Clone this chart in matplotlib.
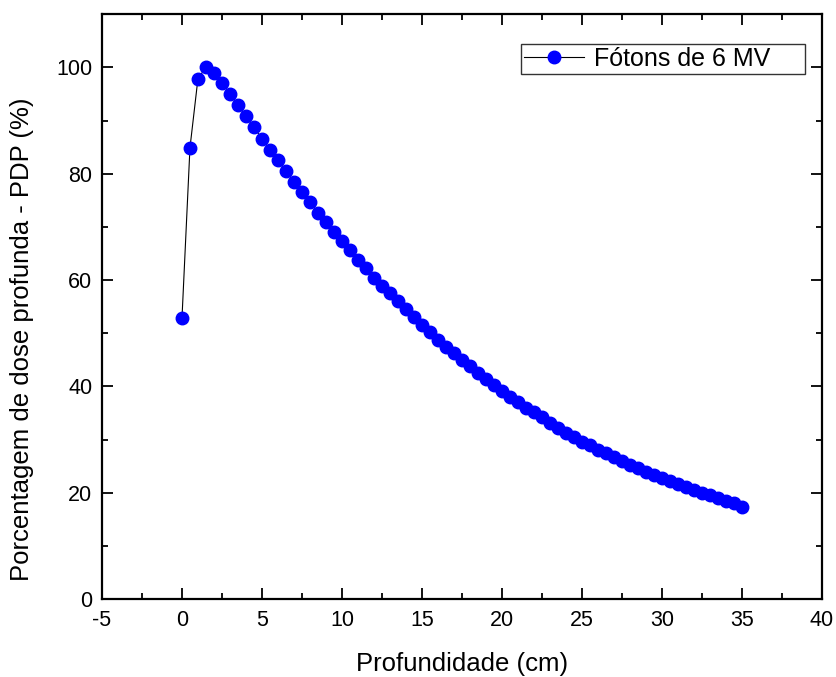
import matplotlib
matplotlib.use("Agg")
import matplotlib.pyplot as plt
from matplotlib.ticker import MultipleLocator

depth_cm = [0.0, 0.5, 1.0, 1.5, 2.0, 2.5, 3.0, 3.5, 4.0, 4.5,
            5.0, 5.5, 6.0, 6.5, 7.0, 7.5, 8.0, 8.5, 9.0, 9.5,
            10.0, 10.5, 11.0, 11.5, 12.0, 12.5, 13.0, 13.5, 14.0, 14.5,
            15.0, 15.5, 16.0, 16.5, 17.0, 17.5, 18.0, 18.5, 19.0, 19.5,
            20.0, 20.5, 21.0, 21.5, 22.0, 22.5, 23.0, 23.5, 24.0, 24.5,
            25.0, 25.5, 26.0, 26.5, 27.0, 27.5, 28.0, 28.5, 29.0, 29.5,
            30.0, 30.5, 31.0, 31.5, 32.0, 32.5, 33.0, 33.5, 34.0, 34.5,
            35.0]
pdp = [52.8, 84.9, 97.9, 100.0, 98.9, 97.1, 95.0, 92.9, 90.8, 88.7,
       86.6, 84.5, 82.5, 80.5, 78.5, 76.5, 74.7, 72.7, 70.9, 69.0,
       67.4, 65.6, 63.8, 62.2, 60.4, 58.9, 57.5, 56.0, 54.5, 53.0,
       51.6, 50.2, 48.8, 47.5, 46.2, 45.0, 43.8, 42.6, 41.4, 40.3,
       39.2, 38.1, 37.1, 36.0, 35.1, 34.2, 33.2, 32.2, 31.3, 30.5,
       29.6, 28.9, 28.1, 27.4, 26.7, 25.9, 25.3, 24.65, 24.0, 23.4,
       22.8, 22.2, 21.6, 21.0, 20.5, 20.0, 19.5, 19.0, 18.5, 18.0,
       17.4]
series_label = "Fótons de 6 MV"
x_label = "Profundidade (cm)"
y_label = "Porcentagem de dose profunda - PDP (%)"

plt.rcParams['font.family'] = ['Liberation Sans', 'DejaVu Sans']
plt.rcParams['axes.unicode_minus'] = False

fig = plt.figure(figsize=(8.36, 6.77), dpi=100)
ax = fig.add_axes([0.122, 0.115, 0.861, 0.864])

ax.plot(depth_cm, pdp, color='black', linewidth=0.8, marker='o',
        markersize=9, markerfacecolor='#0000FF', markeredgecolor='#0000FF',
        label=series_label)

ax.set_xlim(-5, 40)
ax.set_ylim(0, 110)
ax.xaxis.set_major_locator(MultipleLocator(5))
ax.xaxis.set_minor_locator(MultipleLocator(2.5))
ax.yaxis.set_major_locator(MultipleLocator(20))
ax.yaxis.set_minor_locator(MultipleLocator(10))

ax.tick_params(which='both', direction='in', top=True, right=True,
               width=1.3, labelsize=15.5)
ax.tick_params(axis='x', pad=8)
ax.tick_params(axis='y', pad=7)
ax.tick_params(which='major', length=8)
ax.tick_params(which='minor', length=4.5)
for s in ax.spines.values():
    s.set_linewidth(1.6)

ax.set_xlabel(x_label, fontsize=18.5, labelpad=15)
ax.set_ylabel(y_label, fontsize=18.5)
ax.yaxis.set_label_coords(-0.094, 0.444)

leg = ax.legend(loc='upper left', bbox_to_anchor=(0.582, 0.949, 0.394, 0.0),
                mode='expand', fontsize=18, frameon=True, fancybox=False,
                edgecolor='black', borderpad=0.12, handlelength=2.4,
                handletextpad=0.4, borderaxespad=0.0)
leg.get_frame().set_linewidth(1.0)

fig.savefig('out.png', dpi=100)
